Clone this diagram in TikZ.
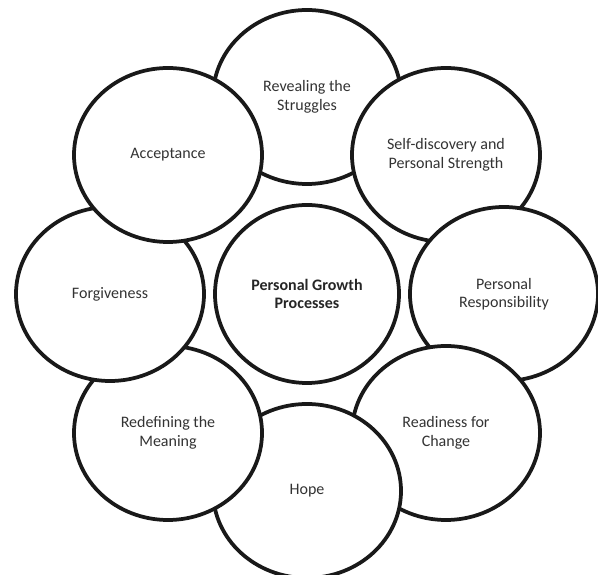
\documentclass[tikz,border=0pt]{standalone}
\usepackage{fontspec}
\setmainfont{Carlito}
\usetikzlibrary{shapes.geometric}

\begin{document}
\begin{tikzpicture}[x=1pt, y=1pt, line width=3.75pt,
  petal/.style={draw=black!90, fill=white, ellipse, minimum width=188pt, minimum height=174pt,
    inner sep=0pt, align=center, text=black!80, font=\fontsize{16}{18.5}\selectfont}]
  \useasboundingbox (0,0) rectangle (598,575);
  % outer ring, drawn clockwise from the top so each one lies over the one before
  \node [petal] (rs) at (307,478) {Revealing the\\Struggles};
  \node [petal] (sd) at (446,420) {Self-discovery and\\Personal Strength};
  \node [petal] (pr) at (504,281) {Personal\\Responsibility};
  \node [petal] (rc) at (446,142) {Readiness for\\Change};
  \node [petal] (hp) at (307,84) {Hope};
  \node [petal] (rm) at (168,142) {Redefining the\\Meaning};
  \node [petal] (fg) at (110,281) {Forgiveness};
  \node [petal] (ac) at (168,420) {Acceptance};
  % centre
  \node [petal, minimum width=184pt, minimum height=178pt, text=black!85,
    font=\bfseries\fontsize{16}{18.5}\selectfont] (pg) at (307,281) {Personal Growth\\Processes};
\end{tikzpicture}
\end{document}
